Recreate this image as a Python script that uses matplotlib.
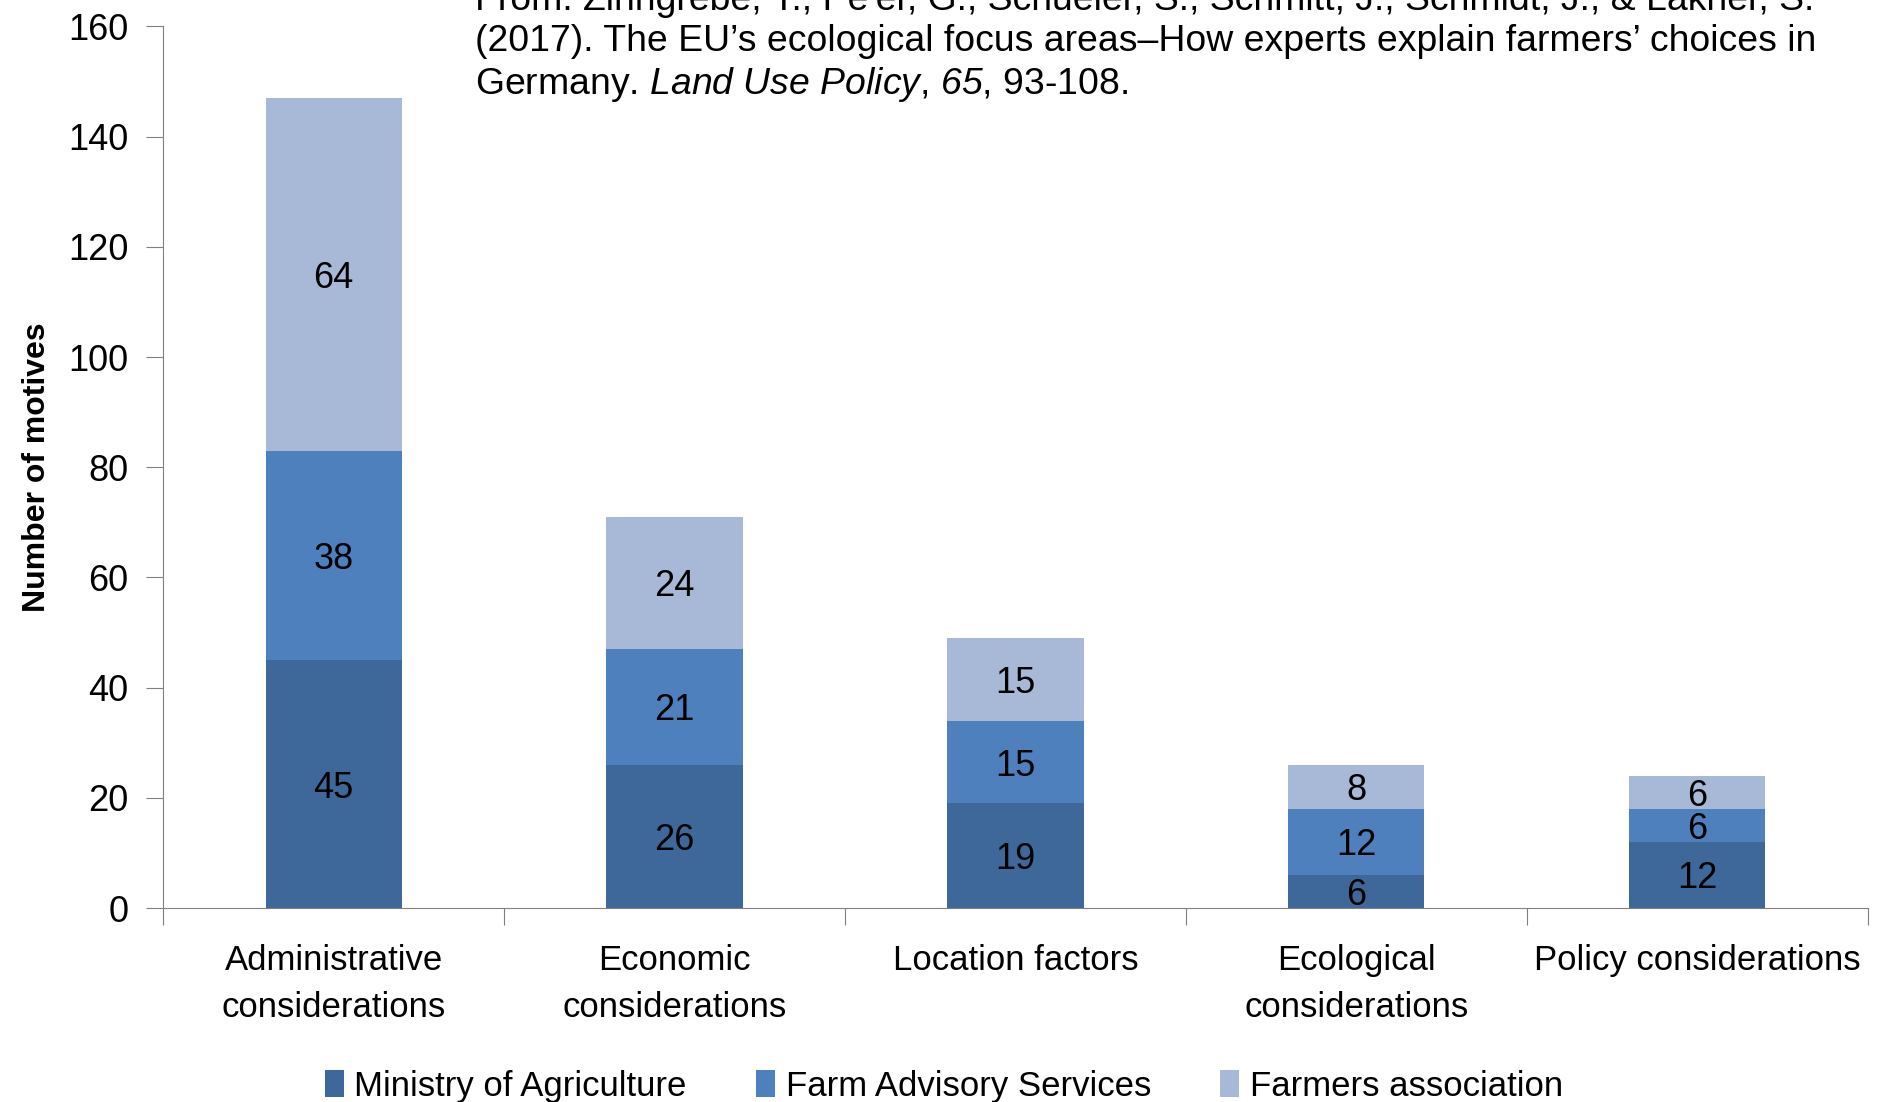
import matplotlib
matplotlib.use("Agg")
import matplotlib.pyplot as plt
import numpy as np

plt.rcParams['font.family'] = ['Liberation Sans', 'DejaVu Sans']
# the only mathtext in the figure is the italic part of the citation
plt.rcParams['mathtext.fontset'] = 'custom'
plt.rcParams['mathtext.it'] = 'Liberation Sans:italic'
plt.rcParams['mathtext.rm'] = 'Liberation Sans:italic'

categories = ['Administrative\nconsiderations', 'Economic\nconsiderations', 'Location factors',
              'Ecological\nconsiderations', 'Policy considerations']
ministry = [45, 26, 19, 6, 12]
advisory = [38, 21, 15, 12, 6]
farmers = [64, 24, 15, 8, 6]
series_names = ['Ministry of Agriculture', 'Farm Advisory Services', 'Farmers association']
colors = ['#3F689A', '#4E80BD', '#A8B9D8']

fig = plt.figure(figsize=(18.77, 11.02), dpi=100)
ax = fig.add_axes([0.087, 0.176, 0.908, 0.8])

x = np.arange(len(categories))
bottom = np.zeros(len(categories))
for vals, name, c in zip([ministry, advisory, farmers], series_names, colors):
    ax.bar(x, vals, 0.4, bottom=bottom, color=c, label=name, zorder=2)
    for xi, b, v in zip(x, bottom, vals):
        ax.text(xi, b + v / 2, str(v), ha='center', va='center_baseline', fontsize=26)
    bottom += np.array(vals)

ax.set_xlim(-0.5, len(categories) - 0.5)
ax.set_ylim(0, 160)
ax.set_yticks(range(0, 161, 20))
ax.set_xticks(np.arange(-0.5, len(categories), 1))
ax.set_xticklabels([])
ax.set_xticks(x, minor=True)
ax.set_xticklabels(categories, minor=True, fontsize=25, linespacing=1.55)
ax.tick_params(axis='x', which='minor', length=0, pad=26)
ax.tick_params(axis='x', which='major', length=12, color='#808080')
ax.tick_params(axis='y', labelsize=26, length=12, pad=13, color='#808080', direction='out')
for s in ['top', 'right']:
    ax.spines[s].set_visible(False)
for s in ['left', 'bottom']:
    ax.spines[s].set_color('#808080')
ax.set_ylabel('Number of motives', fontsize=23, fontweight='bold', labelpad=12)

fig.text(0.2532, 1.0 + 0.015,
         "From: Zinngrebe, Y., Pe'er, G., Schueler, S., Schmitt, J., Schmidt, J., & Lakner, S.\n"
         "(2017). The EU\u2019s ecological focus areas\u2013How experts explain farmers\u2019 choices in\n"
         "Germany. $Land\\ Use\\ Policy$, $65$, 93-108.",
         ha='left', va='top', fontsize=26.9, linespacing=1.2)

ax.legend(loc='upper center', bbox_to_anchor=(0.458, -0.148), ncol=3, frameon=False,
          fontsize=25, handlelength=0.55, handleheight=0.8, handletextpad=0.3,
          columnspacing=2.0)

fig.savefig('out.png', dpi=100)
